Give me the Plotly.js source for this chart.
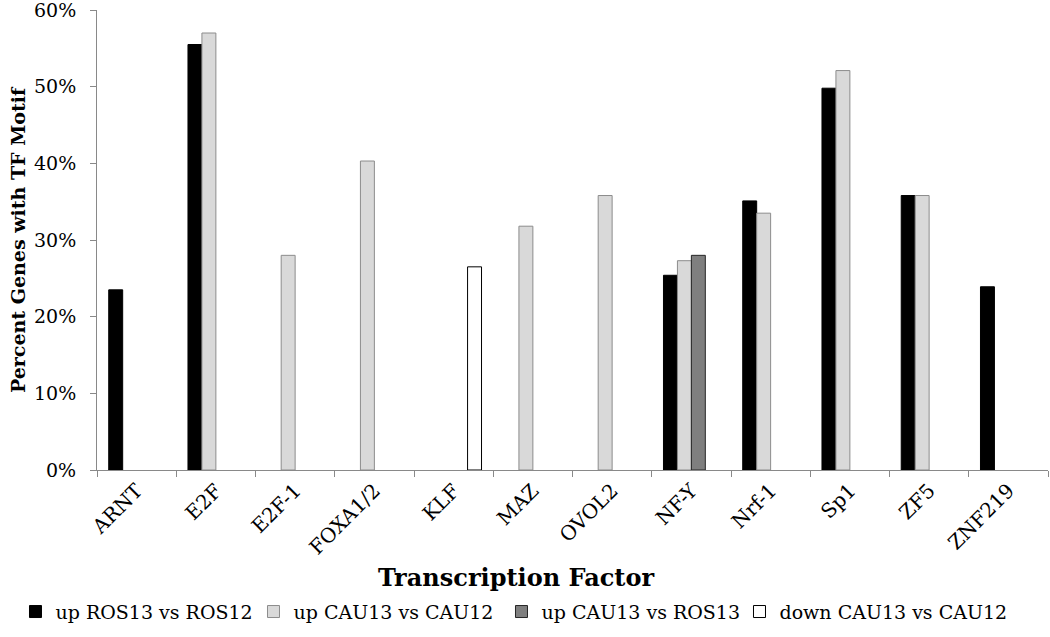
<!DOCTYPE html>
<html>
<head>
<meta charset="utf-8">
<script src="https://cdn.plot.ly/plotly-3.0.1.min.js"></script>
<style>html,body{margin:0;padding:0;background:#fff;}#chart{width:1050px;height:637px;}</style>
</head>
<body>
<div id="chart"></div>
<script>
const categories = ["ARNT","E2F","E2F-1","FOXA1/2","KLF","MAZ","OVOL2","NF-Y","Nrf-1","Sp1","ZF5","ZNF219"];
const seriesNames = ["up ROS13 vs ROS12","up CAU13 vs CAU12","up CAU13 vs ROS13","down CAU13 vs CAU12"];
const upROS13vsROS12 = [0.235, 0.555, null, null, null, null, null, 0.254, 0.351, 0.498, 0.358, 0.239];
const upCAU13vsCAU12 = [null, 0.570, 0.280, 0.403, null, 0.318, 0.358, 0.273, 0.335, 0.521, 0.358, null];
const upCAU13vsROS13 = [null, null, null, null, null, null, null, 0.280, null, null, null, null];
const downCAU13vsCAU12 = [null, null, null, null, 0.265, null, null, null, null, null, null, null];
const yTickVals = [0, 0.1, 0.2, 0.3, 0.4, 0.5, 0.6];
const yTickText = ["0%", "10%", "20%", "30%", "40%", "50%", "60%"];

const font = "DejaVu Serif, Liberation Serif, serif";
const fills = ["#000000", "#d9d9d9", "#7f7f7f", "#ffffff"];
const lines = ["#000000", "#8c8c8c", "#262626", "#000000"];
const legendWidths = [193, 203, 193, 230];
const values = [upROS13vsROS12, upCAU13vsCAU12, upCAU13vsROS13, downCAU13vsCAU12];

const data = values.map((v, i) => ({
  type: "bar",
  name: seriesNames[i],
  x: categories,
  y: v,
  legendwidth: legendWidths[i],
  marker: {color: fills[i], line: {color: lines[i], width: 1}}
}));

const layout = {
  width: 1050, height: 637,
  margin: {l: 97, r: 2, t: 10, b: 167, autoexpand: false},
  paper_bgcolor: "#fff", plot_bgcolor: "#fff",
  barmode: "group", bargap: 0.296, bargroupgap: 0,
  font: {family: font, color: "#000", size: 19},
  showlegend: true,
  legend: {
    orientation: "h", xref: "paper", yref: "paper",
    x: -0.0857, xanchor: "left",
    y: -0.308, yanchor: "middle",
    font: {family: font, size: 19, color: "#000"},
    itemwidth: 30, traceorder: "normal"
  },
  xaxis: {
    type: "category",
    tickangle: -45,
    tickson: "boundaries",
    ticks: "outside", ticklen: 6, tickcolor: "#898989",
    showline: true, linecolor: "#898989", linewidth: 1,
    showgrid: false, zeroline: false,
    automargin: false,
    tickfont: {family: font, size: 20, color: "#000"}
  },
  yaxis: {
    range: [0, 0.6],
    tickvals: yTickVals,
    ticktext: yTickText,
    ticks: "outside", ticklen: 6, tickcolor: "#898989",
    ticklabelstandoff: 10, ticklabeloverflow: "allow",
    showline: true, linecolor: "#898989", linewidth: 1,
    showgrid: false, zeroline: false,
    automargin: false,
    tickfont: {family: font, size: 19, color: "#000"}
  },
  annotations: [{
    text: "<b>Transcription Factor</b>",
    xref: "paper", yref: "paper",
    x: 0.4406, y: -0.234, xanchor: "center", yanchor: "middle",
    showarrow: false,
    font: {family: font, size: 24, color: "#000"}
  }, {
    text: "<b>Percent Genes with TF Motif</b>",
    xref: "paper", yref: "paper",
    x: -0.083, y: 0.5, xanchor: "center", yanchor: "middle",
    textangle: -90,
    showarrow: false,
    font: {family: font, size: 19, color: "#000"}
  }]
};

Plotly.newPlot("chart", data, layout, {displayModeBar: false, staticPlot: true});
</script>
</body>
</html>
